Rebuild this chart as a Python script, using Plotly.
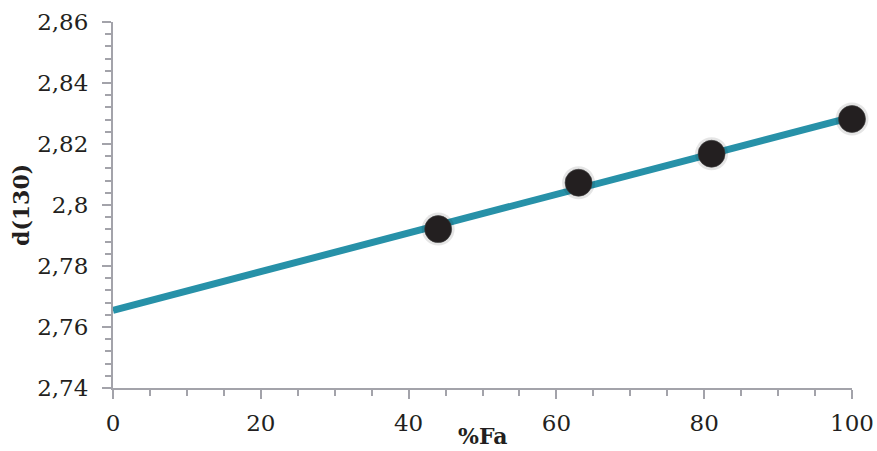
import numpy as np
import plotly.graph_objects as go

# Data
fa_pct = [44, 63, 81, 100]
d130 = [2.7921, 2.8073, 2.8168, 2.8282]

x_tickvals = [0, 20, 40, 60, 80, 100]
x_ticktext = ["0", "20", "40", "60", "80", "100"]
y_tickvals = [2.74, 2.76, 2.78, 2.80, 2.82, 2.84, 2.86]
y_ticktext = ["2,74", "2,76", "2,78", "2,8", "2,82", "2,84", "2,86"]

# Linear trendline (least squares, as in the spreadsheet), drawn over 0..100
slope, intercept = np.polyfit(fa_pct, d130, 1)
trend_x = [0, 100]
trend_y = [intercept + slope * v for v in trend_x]

FONT = "DejaVu Serif"
AXIS_COLOR = "#a3a3aa"

fig = go.Figure()
fig.add_trace(go.Scatter(
    x=trend_x, y=trend_y, mode="lines",
    line=dict(color="#2791a8", width=7),
    hoverinfo="skip", showlegend=False, cliponaxis=False,
))
# soft shadow halo under the markers
fig.add_trace(go.Scatter(
    x=fa_pct, y=d130, mode="markers",
    marker=dict(size=33, color="rgba(0,0,0,0.10)", line=dict(width=0)),
    hoverinfo="skip", showlegend=False, cliponaxis=False,
))
fig.add_trace(go.Scatter(
    x=fa_pct, y=d130, mode="markers",
    marker=dict(size=27, color="#231f20", line=dict(width=1, color="rgba(60,60,60,0.6)")),
    showlegend=False, cliponaxis=False,
))

fig.update_layout(
    width=877, height=451,
    margin=dict(l=113, r=25, t=22, b=63, autoexpand=False),
    paper_bgcolor="white", plot_bgcolor="white",
    font=dict(family=FONT, size=23, color="#231f20"),
    separators=", ",
    showlegend=False,
    annotations=[
        dict(text="<b>%Fa</b>", xref="paper", yref="paper", x=0.5, y=0,
             xanchor="center", yanchor="middle", yshift=-48, showarrow=False,
             font=dict(family=FONT, size=22, color="#231f20")),
        dict(text="<b>d(130)</b>", xref="paper", yref="paper", x=0, y=0.5,
             xanchor="center", yanchor="middle", xshift=-92, textangle=-90,
             showarrow=False, font=dict(family=FONT, size=22, color="#231f20")),
    ],
)

fig.update_xaxes(
    range=[0, 100], tickvals=x_tickvals, ticktext=x_ticktext,
    showgrid=False, zeroline=False, automargin=False,
    showline=True, linecolor=AXIS_COLOR, linewidth=2,
    ticks="outside", ticklen=9, tickwidth=2, tickcolor=AXIS_COLOR,
    minor=dict(dtick=5, ticks="outside", ticklen=6, tickwidth=2, tickcolor=AXIS_COLOR, showgrid=False),
    ticklabelstandoff=4,
)
fig.update_yaxes(
    range=[2.74, 2.86], tickvals=y_tickvals, ticktext=y_ticktext,
    showgrid=False, zeroline=False, automargin=False,
    showline=True, linecolor=AXIS_COLOR, linewidth=2,
    ticks="outside", ticklen=9, tickwidth=2, tickcolor=AXIS_COLOR,
    minor=dict(dtick=0.004, tick0=2.74, ticks="outside", ticklen=6, tickwidth=2, tickcolor=AXIS_COLOR, showgrid=False),
    ticklabelstandoff=9,
)

fig.write_html("out.html", config={"displayModeBar": False},
               post_script="document.body.style.margin='0';")
